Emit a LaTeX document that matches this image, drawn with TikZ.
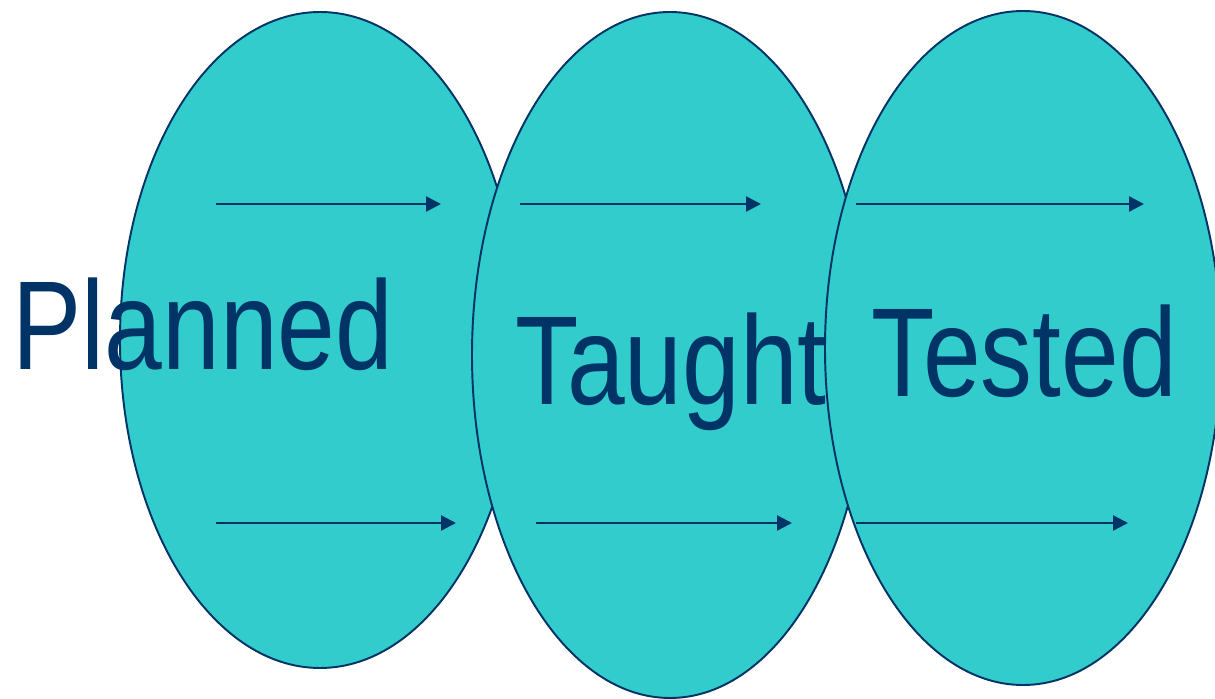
\documentclass[tikz,border=0pt]{standalone}
\usepackage{fontspec}
\setmainfont{Liberation Sans}
\usetikzlibrary{arrows.meta}
\definecolor{navy}{HTML}{003366}
\definecolor{teal}{HTML}{33CCCC}
\begin{document}
\begin{tikzpicture}[x=0.02cm,y=-0.02cm,
  blob/.style={draw=navy,fill=teal,line width=1.1pt},
  word/.style={text=navy,anchor=base,inner sep=0pt,xscale=0.82,transform shape,font=\fontsize{72}{80}\selectfont},
  flow/.style={draw=navy,line width=1.4pt,-{Triangle[length=0.3cm,width=0.3cm]}}]
\useasboundingbox (0,0) rectangle (1215,699);
\draw[blob] (320,340) ellipse [x radius=200,y radius=328];
\draw[blob] (670,355) ellipse [x radius=198,y radius=343];
\draw[blob] (1023,348) ellipse [x radius=198,y radius=337];
\node[word] (planned) at (203,370) {Planned};
\node[word] (taught) at (671,405) {Taught};
\node[word] (tested) at (1024,397) {Tested};
\coordinate (a1) at (216,204); \coordinate (a2) at (441,204);
\coordinate (b1) at (520,204); \coordinate (b2) at (761,204);
\coordinate (c1) at (856,204); \coordinate (c2) at (1144,204);
\coordinate (d1) at (216,523); \coordinate (d2) at (456,523);
\coordinate (e1) at (536,523); \coordinate (e2) at (792,523);
\coordinate (f1) at (856,523); \coordinate (f2) at (1128,523);
\draw[flow] (a1) -- (a2);
\draw[flow] (b1) -- (b2);
\draw[flow] (c1) -- (c2);
\draw[flow] (d1) -- (d2);
\draw[flow] (e1) -- (e2);
\draw[flow] (f1) -- (f2);
\end{tikzpicture}
\end{document}
